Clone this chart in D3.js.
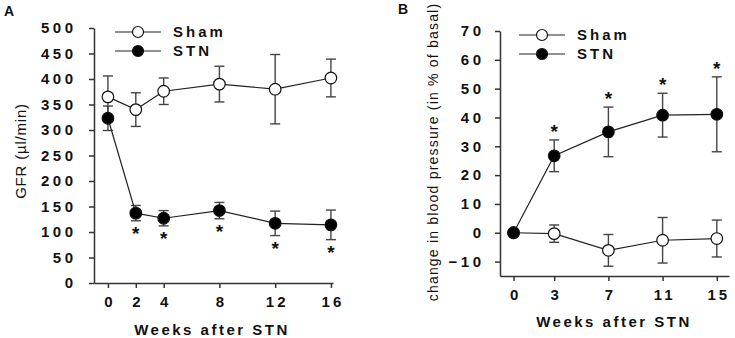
<!DOCTYPE html>
<html>
<head>
<meta charset="utf-8">
<script src="https://cdn.jsdelivr.net/npm/d3@7"></script>
<style>
  body { margin: 0; background: #fff; }
  svg text { font-family: "Liberation Sans", Arial, sans-serif; fill: #111; }
</style>
</head>
<body>
<svg id="chart" width="735" height="338"></svg>
<script>
// Panel A - GFR
const weeksA = [0, 2, 4, 8, 12, 16];
const shamA = [365, 340, 376, 390, 380, 402];
const shamAerr = [41, 33, 26, 35, 68, 37];
const stnA = [323, 137, 127, 142, 117, 114];
const stnAerr = [24, 15, 15, 16, 24, 29];
const starsA = [false, true, true, true, true, true];
const yTicksA = [0, 50, 100, 150, 200, 250, 300, 350, 400, 450, 500];

// Panel B - blood pressure
const weeksB = [0, 3, 7, 11, 15];
const shamB = [0, -0.3, -6.1, -2.6, -2];
const shamBerr = [0, 3, 5.5, 7.9, 6.4];
const stnB = [0, 26.7, 35, 40.8, 41.1];
const stnBerr = [0, 5.5, 8.6, 7.6, 13];
const starsB = [false, true, true, true, true];
const yTicksB = [-10, 0, 10, 20, 30, 40, 50, 60, 70];

const svg = d3.select("#chart");

function drawPanel(cfg) {
  const g = svg.append("g");
  const x = d3.scaleLinear().domain(cfg.xDomain).range(cfg.xRange);
  const y = d3.scaleLinear().domain(cfg.yDomain).range(cfg.yRange);

  // axes
  const yAxis = g.append("g")
    .attr("transform", "translate(" + cfg.xRange[0] + ",0)")
    .call(d3.axisLeft(y).tickValues(cfg.yTicks).tickSize(5).tickPadding(cfg.yPad).tickSizeOuter(0));
  yAxis.selectAll("text")
    .style("font-size", "15px").style("font-weight", "bold")
    .style("letter-spacing", "3.5px").attr("dx", "3.5px");

  const xAxis = g.append("g")
    .attr("transform", "translate(0," + cfg.yRange[0] + ")")
    .call(d3.axisBottom(x).tickValues(cfg.weeks).tickSize(5).tickPadding(8).tickSizeOuter(0));
  xAxis.selectAll("text")
    .style("font-size", "15px").style("font-weight", "bold")
    .style("letter-spacing", "3px").attr("dx", "1.5px");

  g.selectAll(".domain, .tick line").attr("stroke", "#333").attr("stroke-width", 1.5);

  // axis titles
  g.append("text")
    .attr("x", cfg.xTitle[0]).attr("y", cfg.xTitle[1])
    .attr("text-anchor", "middle")
    .style("font-size", "15px").style("font-weight", "bold").style("letter-spacing", "2.5px")
    .text("Weeks after STN");

  g.append("text")
    .attr("transform", "translate(" + cfg.yTitle[0] + "," + cfg.yTitle[1] + ") rotate(-90)")
    .attr("text-anchor", "middle")
    .style("font-size", cfg.yTitleSize).style("letter-spacing", cfg.yTitleSpacing)
    .text(cfg.yLabel);

  g.append("text")
    .attr("x", cfg.letter[0]).attr("y", cfg.letter[1])
    .style("font-size", "14px").style("font-weight", "bold")
    .text(cfg.letter[2]);

  const line = d3.line().x((d, i) => x(cfg.weeks[i])).y(d => y(d));

  const series = [
    { vals: cfg.sham, err: cfg.shamErr, fill: "#fff" },
    { vals: cfg.stn, err: cfg.stnErr, fill: "#000" }
  ];

  series.forEach(s => {
    // error bars
    const eb = g.append("g");
    s.vals.forEach((v, i) => {
      if (!s.err[i]) return;
      const cx = x(cfg.weeks[i]);
      eb.append("line").attr("x1", cx).attr("x2", cx)
        .attr("y1", y(v + s.err[i])).attr("y2", y(v - s.err[i]));
      [v + s.err[i], v - s.err[i]].forEach(e => {
        eb.append("line").attr("x1", cx - 5).attr("x2", cx + 5)
          .attr("y1", y(e)).attr("y2", y(e));
      });
    });
    eb.selectAll("line").attr("stroke", "#444").attr("stroke-width", 1.4);
  });

  series.forEach(s => {
    g.append("path").datum(s.vals)
      .attr("d", line).attr("fill", "none")
      .attr("stroke", "#222").attr("stroke-width", 1.2);
  });

  series.forEach(s => {
    g.selectAll(null).data(s.vals).enter().append("circle")
      .attr("cx", (d, i) => x(cfg.weeks[i]))
      .attr("cy", d => y(d))
      .attr("r", 5.8)
      .attr("fill", s.fill).attr("stroke", "#111").attr("stroke-width", 1.2);
  });

  // significance asterisks
  cfg.stn.forEach((v, i) => {
    if (!cfg.stars[i]) return;
    const edge = cfg.starsBelow ? v - cfg.stnErr[i] : v + cfg.stnErr[i];
    g.append("text")
      .attr("x", x(cfg.weeks[i])).attr("y", y(edge) + (cfg.starsBelow ? 19 : -2))
      .attr("text-anchor", "middle")
      .style("font-size", "19px").style("font-weight", "bold")
      .text("*");
  });

  // legend
  const lg = g.append("g");
  [["Sham", "#fff", cfg.legend[1]], ["STN", "#000", cfg.legend[1] + 19]].forEach(r => {
    lg.append("line").attr("x1", cfg.legend[0]).attr("x2", cfg.legend[0] + 46)
      .attr("y1", r[2]).attr("y2", r[2]).attr("stroke", "#222").attr("stroke-width", 1.2);
    lg.append("circle").attr("cx", cfg.legend[0] + 23).attr("cy", r[2]).attr("r", 5.5)
      .attr("fill", r[1]).attr("stroke", "#111").attr("stroke-width", 1.2);
    lg.append("text").attr("x", cfg.legend[0] + 58).attr("y", r[2] + 5)
      .style("font-size", "15px").style("font-weight", "bold").style("letter-spacing", "3px")
      .text(r[0]);
  });
}

drawPanel({
  weeks: weeksA, sham: shamA, shamErr: shamAerr, stn: stnA, stnErr: stnAerr,
  stars: starsA, starsBelow: true, yTicks: yTicksA, yPad: 16,
  xDomain: [-1, 16.15], xRange: [94, 333],
  yDomain: [0, 500], yRange: [283, 28],
  xTitle: [212, 335], yTitle: [26, 151], yLabel: "GFR (µl/min)",
  yTitleSize: "15px", yTitleSpacing: "0.8px",
  letter: [4, 16, "A"], legend: [115, 32]
});

drawPanel({
  weeks: weeksB, sham: shamB, shamErr: shamBerr, stn: stnB, stnErr: stnBerr,
  stars: starsB, starsBelow: false, yTicks: yTicksB, yPad: 14,
  xDomain: [-1, 15.9], xRange: [500, 729],
  yDomain: [-15, 70], yRange: [276, 31],
  xTitle: [614, 327], yTitle: [438, 152], yLabel: "change in blood pressure (in % of basal)",
  yTitleSize: "14px", yTitleSpacing: "1.2px",
  letter: [398, 14, "B"], legend: [519, 35]
});
</script>
</body>
</html>
